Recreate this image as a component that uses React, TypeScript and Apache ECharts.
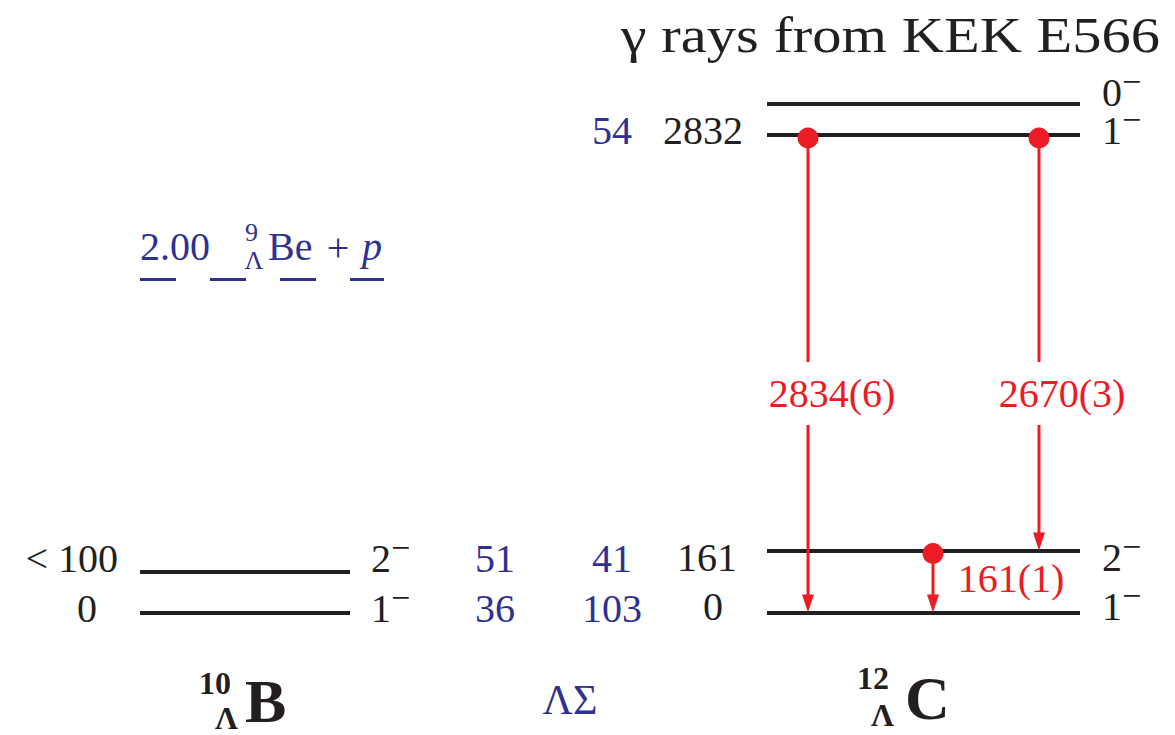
import React, { useEffect, useRef } from "react";
import * as echarts from "echarts";

// ---------------- data ----------------
const TITLE = "γ rays from KEK E566";

// ¹⁰ΛB levels (excitation energy in keV, J^π with negative parity)
const bEnergies = ["0", "< 100"];
const bSpins = ["1", "2"];
const bHeights = [0, 41]; // schematic level heights
const bLambdaSigma = ["36", "51"];

// ¹²ΛC levels
const cEnergies = ["0", "161", "2832", ""];
const cSpins = ["1", "2", "1", "0"];
const cHeights = [0, 62, 477.5, 508.5]; // schematic level heights
const cLambdaSigma = ["103", "41", "54"];

// ⁹ΛBe + p threshold (MeV)
const thresholdEnergy = "2.00";
const thresholdHeight = 333;

// γ transitions in ¹²ΛC (level indices) and measured energies
const gammaFrom = [2, 2, 1];
const gammaTo = [0, 1, 0];
const gammaLabels = ["2834(6)", "2670(3)", "161(1)"];

const nuclideMass = ["10", "12"];
const nuclideSymbol = ["B", "C"];
const columnLabel = "ΛΣ";

// ---------------- layout / style ----------------
const W = 1175;
const H = 735;
const Y_MIN = -122.5;
const Y_MAX = 612.5;
const INK = "#231F20";
const BLUE = "#2E3192";
const RED = "#ED1C24";
const FONT = "'Liberation Serif', 'Times New Roman', serif";

const B_LINE = [140, 350];
const C_LINE = [767, 1080];
const TH_LINE = [140, 384];
const B_ROW = [4.5, 54.5];
const C_ROW = [6.5, 55.5, 482.5, 520.5];
const LS_C_ROW = [4.5, 54.5, 482.5];
const B_ENERGY_RIGHT = [97, 118];
const C_ENERGY_CX = [713, 707, 703, 703];
const B_SPIN_X = 371;
const C_SPIN_X = 1102;
const LS_B_X = 495;
const LS_C_X = 612;
const GAMMA_X = [808, 1039, 933];
const GAMMA_LABEL_X = [832, 1062, 1011];
const GAMMA_LABEL_H = [219.5, 219.5, 34.5];
const GAMMA_GAP = [
  [250.5, 187.5],
  [250.5, 187.5],
  [34.5, 34.5],
];

type T = {
  text: string;
  x: number;
  h: number;
  color: string;
  size: number;
  align?: "left" | "center" | "right";
  weight?: string;
  italic?: boolean;
  sx?: number;
};

const texts: T[] = [];
texts.push({ text: TITLE, x: 1160, h: 577.5, color: INK, size: 50, align: "right", sx: 1.17 });

const pushSpin = (d: string, x: number, h: number) => {
  texts.push({ text: d, x, h, color: INK, size: 40, align: "left" });
  texts.push({ text: "−", x: x + 20, h: h + 11, color: INK, size: 34, align: "left" });
};

bEnergies.forEach((e, i) =>
  texts.push({ text: e, x: B_ENERGY_RIGHT[i], h: B_ROW[i], color: INK, size: 40, align: "right" })
);
bSpins.forEach((s, i) => pushSpin(s, B_SPIN_X, B_ROW[i]));
bLambdaSigma.forEach((v, i) => texts.push({ text: v, x: LS_B_X, h: B_ROW[i], color: BLUE, size: 40 }));
cLambdaSigma.forEach((v, i) => texts.push({ text: v, x: LS_C_X, h: LS_C_ROW[i], color: BLUE, size: 40 }));
cEnergies.forEach((e, i) => {
  if (e) texts.push({ text: e, x: C_ENERGY_CX[i], h: C_ROW[i], color: INK, size: 40 });
});
cSpins.forEach((s, i) => pushSpin(s, C_SPIN_X, C_ROW[i]));
gammaLabels.forEach((g, i) =>
  texts.push({ text: g, x: GAMMA_LABEL_X[i], h: GAMMA_LABEL_H[i], color: RED, size: 40 })
);

// threshold label  2.00  ⁹ΛBe + p
texts.push({ text: thresholdEnergy, x: 140, h: thresholdHeight + 33.5, color: BLUE, size: 40, align: "left" });
texts.push({ text: "9", x: 251.5, h: thresholdHeight + 47, color: BLUE, size: 26 });
texts.push({ text: "Λ", x: 254, h: thresholdHeight + 19, color: BLUE, size: 26 });
texts.push({ text: "Be", x: 268, h: thresholdHeight + 33.5, color: BLUE, size: 40, align: "left" });
texts.push({ text: "+", x: 338, h: thresholdHeight + 32, color: BLUE, size: 40 });
texts.push({ text: "p", x: 372, h: thresholdHeight + 33.5, color: BLUE, size: 40, italic: true });

// nuclide names
const NUC_MASS_X = [215, 873];
const NUC_MASS_H = [-70.5, -65.5];
const NUC_LAM_X = [226.5, 882.5];
const NUC_LAM_H = [-105, -102.5];
const NUC_SYM_X = [245, 905];
const NUC_SYM_H = [-88, -85];
nuclideMass.forEach((m, i) => {
  texts.push({ text: m, x: NUC_MASS_X[i], h: NUC_MASS_H[i], color: INK, size: 32, weight: "bold" });
  texts.push({ text: "Λ", x: NUC_LAM_X[i], h: NUC_LAM_H[i], color: INK, size: 32, weight: "bold" });
  texts.push({
    text: nuclideSymbol[i],
    x: NUC_SYM_X[i],
    h: NUC_SYM_H[i],
    color: INK,
    size: 62,
    weight: "bold",
    align: "left",
  });
});
texts.push({ text: columnLabel, x: 570, h: -87, color: BLUE, size: 42 });

// ---------------- option ----------------
const levelData = [
  ...bHeights.map((h) => ({ coords: [[B_LINE[0], h], [B_LINE[1], h]] })),
  ...cHeights.map((h) => ({ coords: [[C_LINE[0], h], [C_LINE[1], h]] })),
];

const gammaData = gammaFrom.map((f, i) => [
  GAMMA_X[i],
  cHeights[f],
  cHeights[gammaTo[i]],
  GAMMA_GAP[i][0],
  GAMMA_GAP[i][1],
]);

const line = (x1: number, y1: number, x2: number, y2: number) => ({
  type: "line",
  shape: { x1, y1, x2, y2 },
  style: { stroke: RED, lineWidth: 3 },
});

const option: any = {
  animation: false,
  backgroundColor: "#ffffff",
  grid: { left: 0, right: 0, top: 0, bottom: 0, containLabel: false },
  xAxis: { type: "value", min: 0, max: W, show: false },
  yAxis: { type: "value", min: Y_MIN, max: Y_MAX, show: false },
  series: [
    {
      type: "lines",
      coordinateSystem: "cartesian2d",
      silent: true,
      symbol: "none",
      z: 2,
      lineStyle: { color: INK, width: 4, opacity: 1 },
      data: levelData,
    },
    {
      type: "lines",
      coordinateSystem: "cartesian2d",
      silent: true,
      symbol: "none",
      z: 2,
      lineStyle: { color: BLUE, width: 3, opacity: 1, type: [36, 34] },
      data: [{ coords: [[TH_LINE[0], thresholdHeight], [TH_LINE[1], thresholdHeight]] }],
    },
    {
      type: "custom",
      coordinateSystem: "cartesian2d",
      silent: true,
      z: 3,
      data: gammaData,
      renderItem: (_params: any, api: any) => {
        const x = api.value(0);
        const top = api.coord([x, api.value(1)]);
        const bot = api.coord([x, api.value(2)]);
        const gTop = api.coord([x, api.value(3)]);
        const gBot = api.coord([x, api.value(4)]);
        const head = 18;
        const half = 6;
        const dotY = top[1] + 3;
        const baseY = bot[1] - head + 2;
        const children: any[] = [];
        if (gBot[1] > gTop[1] + 0.5) {
          children.push(line(top[0], dotY, top[0], gTop[1]));
          children.push(line(top[0], gBot[1], top[0], baseY));
        } else {
          children.push(line(top[0], dotY, top[0], baseY));
        }
        children.push({
          type: "polygon",
          shape: {
            points: [
              [bot[0] - half, bot[1] - head],
              [bot[0] + half, bot[1] - head],
              [bot[0], bot[1]],
            ],
          },
          style: { fill: RED },
        });
        children.push({ type: "circle", shape: { cx: top[0], cy: dotY, r: 10.5 }, style: { fill: RED } });
        return { type: "group", children };
      },
    },
    {
      type: "custom",
      coordinateSystem: "cartesian2d",
      silent: true,
      z: 4,
      data: texts.map((t) => [t.x, t.h]),
      renderItem: (params: any, api: any) => {
        const t = texts[params.dataIndex];
        const p = api.coord([api.value(0), api.value(1)]);
        return {
          type: "text",
          x: p[0],
          y: p[1],
          scaleX: t.sx ?? 1,
          style: {
            text: t.text,
            fill: t.color,
            fontSize: t.size,
            fontFamily: FONT,
            fontWeight: t.weight ?? "normal",
            fontStyle: t.italic ? "italic" : "normal",
            align: t.align ?? "center",
            verticalAlign: "middle",
            lineHeight: Math.round(t.size * 0.85),
          },
        };
      },
    },
  ],
};

export default function App() {
  const ref = useRef<HTMLDivElement>(null);
  useEffect(() => {
    document.body.style.margin = "0";
    const chart = echarts.init(ref.current!, undefined, { renderer: "svg" });
    chart.setOption(option);
    return () => chart.dispose();
  }, []);
  return <div ref={ref} style={{ width: W, height: H }} />;
}
